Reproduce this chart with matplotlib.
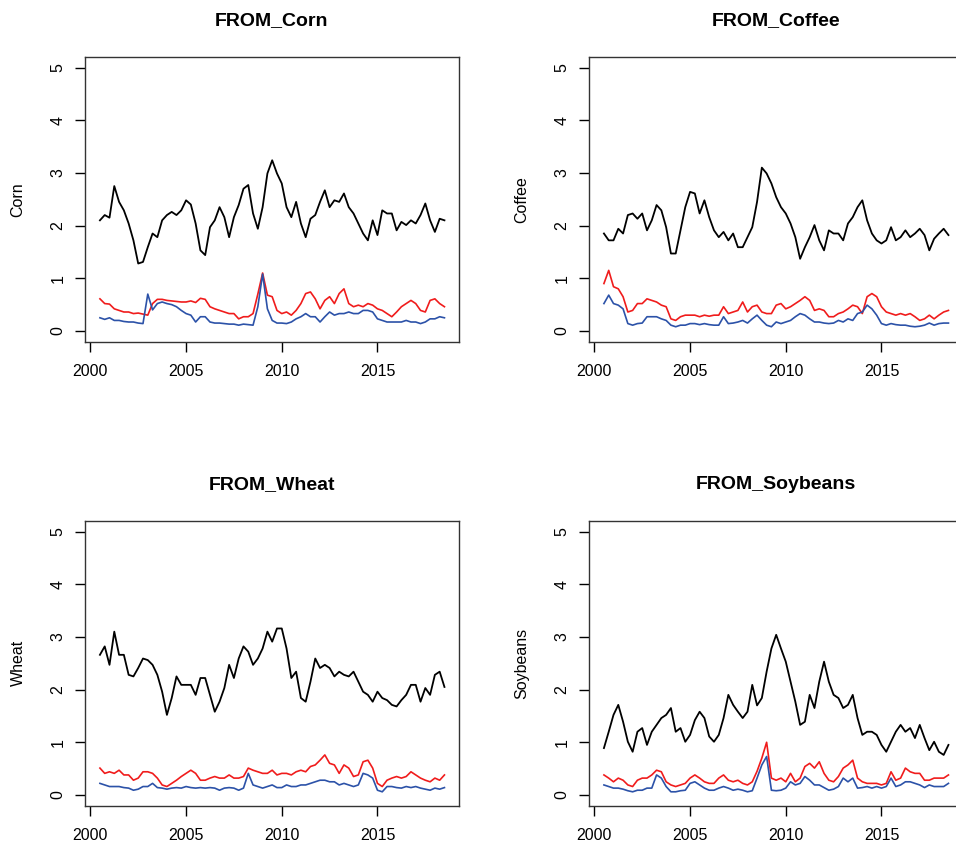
import numpy as np
import matplotlib
matplotlib.use("Agg")
import matplotlib.pyplot as plt

plt.rcParams["font.family"] = ["Liberation Sans", "DejaVu Sans"]

# quarterly readings, 2000.5 .. 2018.5
years = np.arange(2000.5, 2018.51, 0.25)

corn_black = [2.10, 2.20,
              2.15, 2.75, 2.45, 2.29, 2.04, 1.72, 1.28, 1.31, 1.59, 1.85, 1.78, 2.10,
              2.20, 2.26, 2.20, 2.29, 2.48, 2.40, 2.04, 1.53, 1.44, 1.97, 2.10, 2.35,
              2.16, 1.78, 2.16, 2.39, 2.70, 2.77, 2.23, 1.94, 2.35, 2.99, 3.24, 2.99,
              2.80, 2.35, 2.16, 2.45, 2.04, 1.78, 2.13, 2.20, 2.45, 2.67, 2.35, 2.48,
              2.45, 2.61, 2.35, 2.23, 2.04, 1.85, 1.72, 2.10, 1.82, 2.29, 2.23, 2.23,
              1.91, 2.07, 2.01, 2.10, 2.04, 2.20, 2.42, 2.10, 1.88, 2.13, 2.10]
corn_red = [0.61, 0.52,
            0.51, 0.42, 0.39, 0.36, 0.36, 0.33, 0.34, 0.32, 0.30, 0.52, 0.60, 0.60,
            0.58, 0.57, 0.56, 0.55, 0.55, 0.57, 0.54, 0.62, 0.60, 0.46, 0.42, 0.39,
            0.36, 0.33, 0.33, 0.23, 0.27, 0.27, 0.33, 0.70, 1.10, 0.68, 0.65, 0.39,
            0.33, 0.36, 0.30, 0.39, 0.52, 0.71, 0.74, 0.61, 0.42, 0.58, 0.65, 0.52,
            0.71, 0.80, 0.52, 0.46, 0.49, 0.46, 0.52, 0.49, 0.42, 0.39, 0.33, 0.27,
            0.36, 0.46, 0.52, 0.58, 0.52, 0.39, 0.36, 0.58, 0.61, 0.52, 0.46]
corn_blue = [0.25, 0.22,
             0.25, 0.20, 0.20, 0.18, 0.17, 0.17, 0.15, 0.14, 0.70, 0.40, 0.52, 0.55,
             0.52, 0.50, 0.46, 0.39, 0.33, 0.30, 0.17, 0.27, 0.27, 0.17, 0.15, 0.15,
             0.14, 0.13, 0.13, 0.11, 0.13, 0.12, 0.11, 0.46, 1.08, 0.42, 0.20, 0.15,
             0.15, 0.14, 0.17, 0.23, 0.27, 0.33, 0.27, 0.27, 0.17, 0.27, 0.36, 0.30,
             0.33, 0.33, 0.36, 0.33, 0.33, 0.39, 0.39, 0.36, 0.23, 0.20, 0.17, 0.17,
             0.17, 0.17, 0.20, 0.17, 0.17, 0.14, 0.17, 0.23, 0.23, 0.27, 0.25]

coffee_black = [1.85, 1.72,
                1.72, 1.94, 1.85, 2.20, 2.23, 2.13, 2.23, 1.91, 2.10, 2.39, 2.29, 1.97,
                1.47, 1.47, 1.91, 2.35, 2.64, 2.61, 2.23, 2.48, 2.16, 1.91, 1.78, 1.88,
                1.72, 1.85, 1.59, 1.59, 1.78, 1.97, 2.45, 3.10, 2.99, 2.80, 2.54, 2.35,
                2.23, 2.04, 1.78, 1.37, 1.59, 1.78, 2.01, 1.72, 1.53, 1.91, 1.85, 1.85,
                1.72, 2.04, 2.16, 2.35, 2.48, 2.10, 1.85, 1.72, 1.66, 1.72, 1.97, 1.72,
                1.78, 1.91, 1.78, 1.85, 1.94, 1.82, 1.53, 1.75, 1.85, 1.94, 1.82]
coffee_red = [0.90, 1.15,
              0.84, 0.80, 0.65, 0.36, 0.39, 0.52, 0.52, 0.61, 0.58, 0.55, 0.49, 0.46,
              0.23, 0.20, 0.27, 0.30, 0.30, 0.30, 0.27, 0.30, 0.28, 0.30, 0.30, 0.46,
              0.33, 0.36, 0.39, 0.55, 0.36, 0.46, 0.49, 0.36, 0.33, 0.33, 0.49, 0.52,
              0.42, 0.46, 0.52, 0.58, 0.65, 0.58, 0.39, 0.42, 0.39, 0.27, 0.27, 0.33,
              0.36, 0.42, 0.49, 0.46, 0.33, 0.65, 0.71, 0.65, 0.46, 0.36, 0.33, 0.30,
              0.33, 0.30, 0.33, 0.27, 0.20, 0.23, 0.30, 0.23, 0.30, 0.36, 0.39]
coffee_blue = [0.52, 0.68,
               0.52, 0.49, 0.42, 0.14, 0.11, 0.14, 0.15, 0.27, 0.27, 0.27, 0.23, 0.20,
               0.11, 0.08, 0.11, 0.11, 0.14, 0.14, 0.12, 0.14, 0.12, 0.11, 0.11, 0.27,
               0.14, 0.15, 0.17, 0.20, 0.15, 0.23, 0.30, 0.20, 0.11, 0.08, 0.17, 0.14,
               0.17, 0.20, 0.27, 0.33, 0.30, 0.23, 0.17, 0.17, 0.15, 0.14, 0.15, 0.20,
               0.17, 0.23, 0.20, 0.33, 0.36, 0.49, 0.42, 0.30, 0.14, 0.11, 0.14, 0.12,
               0.11, 0.11, 0.09, 0.08, 0.09, 0.11, 0.15, 0.11, 0.14, 0.15, 0.15]

wheat_black = [2.66, 2.82,
               2.47, 3.10, 2.66, 2.66, 2.28, 2.25, 2.41, 2.59, 2.56, 2.47, 2.28, 1.96,
               1.52, 1.84, 2.25, 2.09, 2.09, 2.09, 1.90, 2.22, 2.22, 1.90, 1.58, 1.77,
               2.03, 2.47, 2.22, 2.59, 2.82, 2.72, 2.47, 2.59, 2.78, 3.10, 2.91, 3.16,
               3.16, 2.78, 2.22, 2.34, 1.84, 1.77, 2.15, 2.59, 2.41, 2.47, 2.41, 2.25,
               2.34, 2.28, 2.25, 2.34, 2.15, 1.96, 1.90, 1.77, 1.96, 1.84, 1.80, 1.71,
               1.68, 1.80, 1.90, 2.09, 2.09, 1.77, 2.03, 1.90, 2.28, 2.34, 2.05]
wheat_red = [0.51, 0.41,
             0.44, 0.41, 0.47, 0.38, 0.38, 0.28, 0.32, 0.44, 0.44, 0.41, 0.32, 0.19,
             0.16, 0.22, 0.28, 0.35, 0.41, 0.47, 0.41, 0.28, 0.28, 0.32, 0.35, 0.32,
             0.32, 0.38, 0.32, 0.32, 0.35, 0.51, 0.47, 0.44, 0.41, 0.41, 0.47, 0.38,
             0.41, 0.41, 0.38, 0.44, 0.47, 0.44, 0.54, 0.57, 0.66, 0.76, 0.60, 0.57,
             0.41, 0.57, 0.51, 0.35, 0.38, 0.63, 0.66, 0.51, 0.22, 0.16, 0.28, 0.32,
             0.35, 0.32, 0.35, 0.44, 0.38, 0.32, 0.28, 0.25, 0.32, 0.28, 0.38]
wheat_blue = [0.22, 0.19,
              0.16, 0.16, 0.16, 0.14, 0.13, 0.09, 0.11, 0.16, 0.16, 0.22, 0.14, 0.13,
              0.11, 0.13, 0.14, 0.13, 0.16, 0.14, 0.13, 0.14, 0.13, 0.14, 0.13, 0.09,
              0.13, 0.14, 0.13, 0.09, 0.13, 0.41, 0.19, 0.16, 0.13, 0.16, 0.19, 0.14,
              0.14, 0.19, 0.16, 0.16, 0.19, 0.19, 0.22, 0.25, 0.28, 0.28, 0.25, 0.25,
              0.19, 0.22, 0.19, 0.16, 0.19, 0.41, 0.38, 0.32, 0.09, 0.06, 0.16, 0.16,
              0.14, 0.13, 0.16, 0.14, 0.16, 0.13, 0.11, 0.09, 0.13, 0.11, 0.14]

soy_black = [0.89, 1.20,
             1.52, 1.71, 1.39, 1.01, 0.82, 1.20, 1.27, 0.95, 1.20, 1.33, 1.46, 1.52,
             1.65, 1.20, 1.27, 1.01, 1.14, 1.42, 1.58, 1.46, 1.11, 1.01, 1.14, 1.46,
             1.90, 1.71, 1.58, 1.46, 1.58, 2.09, 1.70, 1.84, 2.34, 2.78, 3.04, 2.78,
             2.53, 2.15, 1.77, 1.33, 1.39, 1.90, 1.65, 2.15, 2.53, 2.15, 1.90, 1.84,
             1.65, 1.71, 1.90, 1.46, 1.14, 1.20, 1.20, 1.14, 0.95, 0.82, 1.01, 1.20,
             1.33, 1.20, 1.27, 1.08, 1.33, 1.08, 0.85, 1.01, 0.82, 0.76, 0.95]
soy_red = [0.38, 0.32,
           0.25, 0.32, 0.28, 0.19, 0.16, 0.28, 0.32, 0.32, 0.38, 0.47, 0.44, 0.25,
           0.19, 0.16, 0.19, 0.22, 0.32, 0.38, 0.32, 0.25, 0.22, 0.22, 0.32, 0.38,
           0.28, 0.25, 0.28, 0.22, 0.19, 0.25, 0.45, 0.70, 1.00, 0.32, 0.28, 0.32,
           0.25, 0.41, 0.25, 0.32, 0.54, 0.60, 0.51, 0.63, 0.41, 0.28, 0.25, 0.35,
           0.51, 0.57, 0.66, 0.32, 0.25, 0.22, 0.22, 0.22, 0.19, 0.22, 0.44, 0.28,
           0.32, 0.51, 0.44, 0.41, 0.41, 0.28, 0.28, 0.32, 0.32, 0.32, 0.38]
soy_blue = [0.19, 0.16,
            0.13, 0.13, 0.11, 0.08, 0.06, 0.09, 0.09, 0.13, 0.13, 0.38, 0.32, 0.16,
            0.06, 0.06, 0.08, 0.09, 0.22, 0.25, 0.19, 0.13, 0.09, 0.09, 0.13, 0.16,
            0.13, 0.09, 0.11, 0.09, 0.06, 0.08, 0.32, 0.57, 0.73, 0.09, 0.08, 0.09,
            0.13, 0.25, 0.19, 0.22, 0.35, 0.28, 0.19, 0.19, 0.14, 0.09, 0.11, 0.16,
            0.32, 0.25, 0.32, 0.13, 0.14, 0.16, 0.13, 0.16, 0.13, 0.16, 0.32, 0.16,
            0.19, 0.25, 0.25, 0.22, 0.19, 0.14, 0.19, 0.16, 0.16, 0.16, 0.22]

panels = [
    ("FROM_Corn", "Corn", corn_black, corn_red, corn_blue),
    ("FROM_Coffee", "Coffee", coffee_black, coffee_red, coffee_blue),
    ("FROM_Wheat", "Wheat", wheat_black, wheat_red, wheat_blue),
    ("FROM_Soybeans", "Soybeans", soy_black, soy_red, soy_blue),
]

W, H = 956, 849
fig = plt.figure(figsize=(W / 100, H / 100), dpi=100)

# axes boxes in pixels: left, top (width and height shared)
boxes = [(85, 57), (589, 57), (85, 521), (589, 521)]
bw, bh = 374, 284.5

for (title, name, black, red, blue), (left, top) in zip(panels, boxes):
    ax = fig.add_axes([left / W, 1 - (top + bh) / H, bw / W, bh / H])
    ax.plot(years, black, color="black", lw=1.3)
    ax.plot(years, red, color="#f01c1c", lw=1.2)
    ax.plot(years, blue, color="#2c52a8", lw=1.2)
    ax.set_xlim(1999.72, 2019.26)
    ax.set_ylim(-0.2, 5.2)
    ax.set_xticks([2000, 2005, 2010, 2015])
    ax.set_yticks([0, 1, 2, 3, 4, 5])
    ax.tick_params(direction="out", length=7, width=1, labelsize=11.5)
    ax.tick_params(axis="x", pad=9)
    ax.tick_params(axis="y", pad=7)
    for lab in ax.get_yticklabels():
        lab.set_rotation(90)
        lab.set_va("center")
    for sp in ax.spines.values():
        sp.set_linewidth(1)
        sp.set_color("#333333")
    ax.set_title(title, fontsize=14, fontweight="bold", pad=23)
    ax.set_ylabel(name, fontsize=11.5, labelpad=18)

fig.savefig("out.png", dpi=100)
